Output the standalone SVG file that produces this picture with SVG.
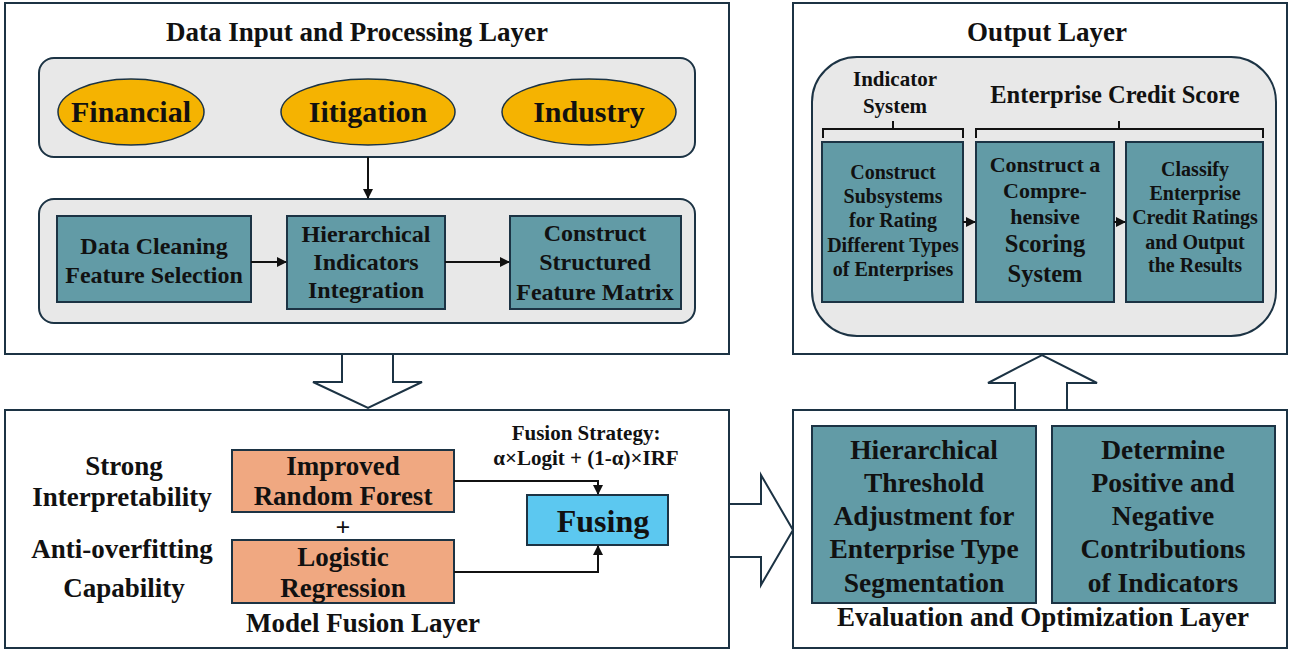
<svg xmlns="http://www.w3.org/2000/svg" width="1289" height="650" viewBox="0 0 1289 650">
<style>
text{font-family:"Liberation Serif","Times New Roman",serif;font-weight:bold;fill:#111;text-anchor:middle}
.panel{fill:#fff;stroke:#1c3344;stroke-width:2}
.inner{fill:#e8e8e8;stroke:#1c3344;stroke-width:2}
.teal{fill:#629ba6;stroke:#1c3344;stroke-width:2}
.ell{fill:#f5b301;stroke:#1c3344;stroke-width:1.5}
.org{fill:#f0a881;stroke:#1c3344;stroke-width:2}
.blue{fill:#5cc8f0;stroke:#1c3344;stroke-width:2}
.con{fill:none;stroke:#111;stroke-width:2}
.big{fill:#fff;stroke:#1c3344;stroke-width:2;stroke-linejoin:miter}
.t27{font-size:27px}
.t24{font-size:24px}
.t20{font-size:20px}
</style>
<defs>
<marker id="ah" viewBox="0 0 10 10" refX="9" refY="5" markerWidth="5" markerHeight="5" orient="auto-start-reverse">
<path d="M0,0 L10,5 L0,10 z" fill="#111"/>
</marker>
</defs>

<g id="panel-data">
<rect class="panel" x="5" y="3" width="724" height="351"/>
<text class="t27" x="357" y="41">Data Input and Processing Layer</text>
</g>
<g id="sources">
<rect class="inner" x="39" y="58" width="656" height="99" rx="15"/>
</g>
<g id="financial"><ellipse class="ell" cx="131" cy="112" rx="73" ry="33"/><text x="131" y="122" font-size="30">Financial</text></g>
<g id="litigation"><ellipse class="ell" cx="368" cy="112" rx="87" ry="33"/><text x="368" y="122" font-size="30">Iitigation</text></g>
<g id="industry"><ellipse class="ell" cx="589" cy="112" rx="87" ry="33"/><text x="589" y="122" font-size="30">Industry</text></g>
<g id="processing">
<rect class="inner" x="39" y="199" width="656" height="124" rx="15"/>
</g>
<g id="cleaning"><rect class="teal" x="57" y="216" width="194" height="86"/>
<text class="t24" x="154" y="254">Data Cleaning</text><text class="t24" x="154" y="283">Feature Selection</text></g>
<g id="hier"><rect class="teal" x="287" y="216" width="158" height="93"/>
<text class="t24" x="366" y="242">Hierarchical</text><text class="t24" x="366" y="270">Indicators</text><text class="t24" x="366" y="298">Integration</text></g>
<g id="matrix"><rect class="teal" x="510" y="216" width="171" height="93"/>
<text class="t24" x="595" y="241">Construct</text><text class="t24" x="595" y="270">Structured</text><text class="t24" x="595" y="300">Feature Matrix</text></g>

<g id="panel-output">
<rect class="panel" x="793" y="3" width="494" height="351"/>
<text class="t27" x="1047" y="41">Output Layer</text>
<rect class="inner" x="812" y="57" width="464" height="279" rx="45"/>
<text x="895" y="86" font-size="21">Indicator</text>
<text x="895" y="113" font-size="21">System</text>
<text x="1115" y="103" font-size="24.5">Enterprise Credit Score</text>
<path class="con" d="M823,138 V129 H963 V138 M893,129 V121"/>
<path class="con" d="M976,138 V129 H1263 V138 M1119,129 V121"/>
</g>
<g id="subsystems"><rect class="teal" x="822" y="142" width="141" height="160"/>
<text class="t20" x="893" y="179">Construct</text><text class="t20" x="893" y="203">Subsystems</text><text class="t20" x="893" y="227">for Rating</text><text class="t20" x="893" y="252">Different Types</text><text class="t20" x="893" y="276">of Enterprises</text></g>
<g id="scoring"><rect class="teal" x="976" y="142" width="138" height="160"/>
<text x="1045" y="172" font-size="22">Construct a</text><text x="1045" y="198" font-size="22">Compre-</text><text x="1045" y="224" font-size="22">hensive</text><text x="1045" y="252" font-size="24.5">Scoring</text><text x="1045" y="282" font-size="24.5">System</text></g>
<g id="classify"><rect class="teal" x="1126" y="142" width="137" height="160"/>
<text class="t20" x="1195" y="176">Classify</text><text class="t20" x="1195" y="200">Enterprise</text><text class="t20" x="1195" y="224">Credit Ratings</text><text class="t20" x="1195" y="249">and Output</text><text class="t20" x="1195" y="272">the Results</text></g>

<g id="panel-fusion">
<rect class="panel" x="5" y="410" width="724" height="238"/>
<text class="t27" x="124" y="475">Strong</text>
<text class="t27" x="122" y="506">Interpretability</text>
<text class="t27" x="122" y="558">Anti-overfitting</text>
<text class="t27" x="124" y="597">Capability</text>
<text x="343" y="536" font-size="26">+</text>
<text x="586" y="440" font-size="21">Fusion Strategy:</text>
<text x="586" y="465" font-size="21">α×Logit + (1-α)×IRF</text>
<text class="t27" x="363" y="632">Model Fusion Layer</text>
</g>
<g id="irf"><rect class="org" x="232" y="450" width="222" height="62"/>
<text class="t27" x="343" y="475">Improved</text><text class="t27" x="343" y="505">Random Forest</text></g>
<g id="lr"><rect class="org" x="232" y="540" width="222" height="63"/>
<text class="t27" x="343" y="566">Logistic</text><text class="t27" x="343" y="597">Regression</text></g>
<g id="fusing"><rect class="blue" x="527" y="495" width="141" height="50"/>
<text x="603" y="532" font-size="32">Fusing</text></g>

<g id="panel-eval">
<rect class="panel" x="793" y="410" width="494" height="238"/>
<text class="t27" x="1043" y="626">Evaluation and Optimization Layer</text>
</g>
<g id="threshold"><rect class="teal" x="812" y="426" width="224" height="177"/>
<text x="924" y="459" font-size="27.5">Hierarchical</text><text x="924" y="492" font-size="27.5">Threshold</text><text x="924" y="525" font-size="27.5">Adjustment for</text><text x="924" y="558" font-size="27.5">Enterprise Type</text><text x="924" y="592" font-size="27.5">Segmentation</text></g>
<g id="contrib"><rect class="teal" x="1052" y="426" width="223" height="177"/>
<text x="1163" y="459" font-size="27.5">Determine</text><text x="1163" y="492" font-size="27.5">Positive and</text><text x="1163" y="525" font-size="27.5">Negative</text><text x="1163" y="558" font-size="27.5">Contributions</text><text x="1163" y="592" font-size="27.5">of Indicators</text></g>

<g id="connectors">
<line class="con" x1="368" y1="157" x2="368" y2="198" marker-end="url(#ah)" stroke-width="1.5"/>
<line class="con" x1="251" y1="262" x2="286" y2="262" marker-end="url(#ah)"/>
<line class="con" x1="445" y1="262" x2="509" y2="262" marker-end="url(#ah)"/>
<line class="con" x1="963" y1="222" x2="975" y2="222" marker-end="url(#ah)"/>
<line class="con" x1="1114" y1="222" x2="1125" y2="222" marker-end="url(#ah)"/>
<path class="con" d="M454,481 H598 V494" marker-end="url(#ah)" stroke-width="1.5"/>
<path class="con" d="M454,572 H598 V546" marker-end="url(#ah)" stroke-width="1.5"/>
<path class="big" d="M342,355 V382 H313 L368,408 L422,382 H393 V355"/>
<path class="big" d="M730,504 H761 V475 L793,530 L761,585 V557 H730"/>
<path class="big" d="M1015,409 V383 H988 L1042,355 L1097,383 H1067 V409"/>
</g>
</svg>
